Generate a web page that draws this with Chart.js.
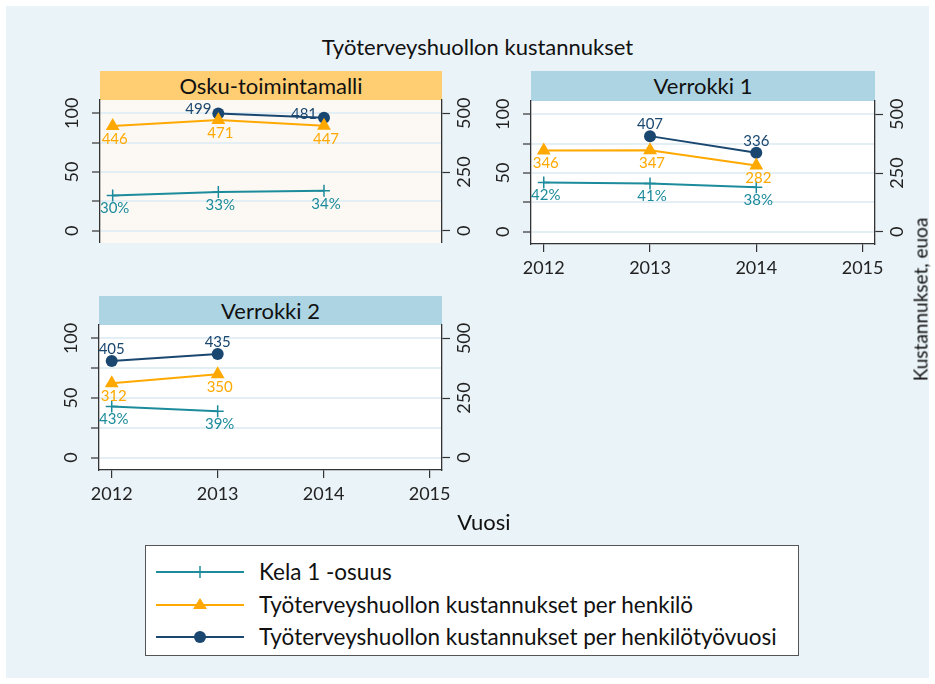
<!DOCTYPE html>
<html>
<head>
<meta charset="utf-8">
<script src="https://cdn.jsdelivr.net/npm/chart.js@4"></script>
<style>
body { margin: 0; background: #fff; font-family: Lato, 'Open Sans', sans-serif; }
#wrap { position: relative; width: 935px; height: 684px; overflow: hidden; }
#bg { position: absolute; left: 6px; top: 6px; width: 923px; height: 672px; background: #EAF3F8; }
.hdr { position: absolute; height: 29px; line-height: 29px; text-align: center; font-size: 22px; color: #111; }
canvas { position: absolute; }
#title { position: absolute; left: 0; width: 955px; top: 33px; text-align: center; font-size: 22px; color: #111; }
#xtitle { position: absolute; left: 434px; width: 100px; top: 508px; text-align: center; font-size: 22px; color: #111; }
#ytitle { position: absolute; left: 820px; top: 288px; width: 200px; text-align: center; font-size: 19px; color: #111; transform: rotate(-90deg); }
#legend { position: absolute; left: 145px; top: 545px; width: 654px; height: 111px; background: #fff; border: 1px solid #555; box-sizing: border-box; }
.item { position: absolute; left: 10px; height: 30px; width: 640px; }
.item svg { position: absolute; left: 0; top: 0; }
.item span { position: absolute; left: 103px; top: 1px; font-size: 22.5px; color: #111; white-space: nowrap; }
</style>
</head>
<body>
<div id="wrap">
  <div id="bg"></div>
  <div id="title">Työterveyshuollon kustannukset</div>

  <div class="hdr" style="left:100px;top:71px;width:342px;background:#FFCE73;">Osku-toimintamalli</div>
  <div class="hdr" style="left:531px;top:71px;width:344px;height:30px;background:#ADD4E2;">Verrokki 1</div>
  <div class="hdr" style="left:99px;top:296px;width:343px;background:#ADD4E2;">Verrokki 2</div>

  <canvas id="c1" width="460" height="153" style="left:40px;top:90px;"></canvas>
  <canvas id="c2" width="462" height="192" style="left:471px;top:91px;"></canvas>
  <canvas id="c3" width="461" height="194" style="left:39px;top:315px;"></canvas>

  <div id="xtitle">Vuosi</div>
  <div id="ytitle">Kustannukset, euoa</div>

  <div id="legend">
    <div class="item" style="top:11px;">
      <svg width="100" height="30"><line x1="0" y1="15" x2="88" y2="15" stroke="#1C8B9B" stroke-width="2"/><line x1="44" y1="9" x2="44" y2="21" stroke="#1C8B9B" stroke-width="1.5"/><line x1="38" y1="15" x2="50" y2="15" stroke="#1C8B9B" stroke-width="1.5"/></svg>
      <span>Kela 1 -osuus</span>
    </div>
    <div class="item" style="top:44px;">
      <svg width="100" height="30"><line x1="0" y1="15" x2="88" y2="15" stroke="#FFA900" stroke-width="2"/><polygon points="44,8 51,19 37,19" fill="#FFA900"/></svg>
      <span>Työterveyshuollon kustannukset per henkilö</span>
    </div>
    <div class="item" style="top:76px;">
      <svg width="100" height="30"><line x1="0" y1="15" x2="88" y2="15" stroke="#1A476F" stroke-width="2"/><circle cx="44" cy="15" r="6" fill="#1A476F"/></svg>
      <span>Työterveyshuollon kustannukset per henkilötyövuosi</span>
    </div>
  </div>
</div>

<script>
// vuodet ja arvot
const years = [2012, 2013, 2014];
const xTicks = [2012, 2013, 2014, 2015];

const oskuKela = [30, 33, 34];
const oskuHenkilo = [446, 471, 447];
const oskuVuosi = [null, 499, 481];

const ver1Kela = [42, 41, 38];
const ver1Henkilo = [346, 347, 282];
const ver1Vuosi = [null, 407, 336];

const ver2Kela = [43, 39];
const ver2Henkilo = [312, 350];
const ver2Vuosi = [405, 435];

const teal = '#1C8B9B';
const orange = '#FFA900';
const navy = '#1A476F';

function points(vals) {
  return vals.map((v, i) => ({ x: years[i], y: v })).filter(p => p.y !== null);
}

// arvojen tekstit pisteiden viereen
const pointLabels = {
  id: 'pointLabels',
  afterDatasetsDraw(chart) {
    const ctx = chart.ctx;
    ctx.save();
    ctx.font = '15px Lato';
    ctx.textAlign = 'center';
    ctx.textBaseline = 'middle';
    chart.data.datasets.forEach((ds, di) => {
      const meta = chart.getDatasetMeta(di);
      meta.data.forEach((el, i) => {
        const pos = ds.labelPos[i] || ds.labelPos[0];
        let dx = 2, dy = 13;
        if (pos === 'above') { dx = 0; dy = -12; }
        if (pos === 'left') { dx = -20; dy = -4; }
        ctx.fillStyle = ds.borderColor;
        ctx.fillText(ds.data[i].y + ds.suffix, el.x + dx, el.y + dy);
      });
    });
    ctx.restore();
  }
};

// pystyyn käännetyt y-akselin luvut
const rotTicks = {
  id: 'rotTicks',
  afterDraw(chart) {
    const ctx = chart.ctx;
    ctx.save();
    ctx.font = '18px Lato';
    ctx.fillStyle = '#222';
    ctx.textAlign = 'center';
    ctx.textBaseline = 'middle';
    ['y', 'y2'].forEach(id => {
      const s = chart.scales[id];
      const every = id === 'y' ? 50 : 250;
      const x = id === 'y' ? s.right - 28 : s.left + 22;
      s.ticks.forEach(t => {
        if (t.value % every !== 0) return;
        ctx.save();
        ctx.translate(x, s.getPixelForValue(t.value));
        ctx.rotate(-Math.PI / 2);
        ctx.fillText(String(t.value), 0, 0);
        ctx.restore();
      });
    });
    ctx.restore();
  }
};

const plotBg = {
  id: 'plotBg',
  beforeDraw(chart, args, opts) {
    const a = chart.chartArea;
    chart.ctx.save();
    chart.ctx.fillStyle = opts.color;
    chart.ctx.fillRect(a.left, a.top, a.right - a.left, a.bottom - a.top);
    chart.ctx.restore();
  }
};

function makeChart(id, kela, henkilo, vuosi, vuosiPos, showX, bg) {
  new Chart(document.getElementById(id), {
    type: 'line',
    data: {
      datasets: [
        {
          data: points(kela), yAxisID: 'y', suffix: '%', labelPos: ['below'],
          borderColor: teal, backgroundColor: teal, borderWidth: 2,
          pointStyle: 'cross', pointRadius: 6, pointBorderWidth: 1.5
        },
        {
          data: points(henkilo), yAxisID: 'y2', suffix: '', labelPos: ['below'],
          borderColor: orange, backgroundColor: orange, borderWidth: 2,
          pointStyle: 'triangle', pointRadius: 8, pointBorderWidth: 0
        },
        {
          data: points(vuosi), yAxisID: 'y2', suffix: '', labelPos: vuosiPos,
          borderColor: navy, backgroundColor: navy, borderWidth: 2,
          pointStyle: 'circle', pointRadius: 6, pointBorderWidth: 0
        }
      ]
    },
    options: {
      responsive: false,
      animation: false,
      layout: { padding: { top: 10 }, autoPadding: false },
      plugins: {
        legend: { display: false },
        tooltip: { enabled: false },
        plotBg: { color: bg }
      },
      scales: {
        x: {
          type: 'linear', min: 2011.88, max: 2015.117, display: showX,
          afterBuildTicks: s => { s.ticks = xTicks.map(v => ({ value: v })); },
          afterFit: s => { s.height = showX ? 39 : 0; },
          grid: { drawOnChartArea: false, tickLength: 8, tickColor: '#333', lineWidth: 1.2 },
          border: { color: '#333', width: 1.3 },
          ticks: { color: '#222', font: { family: 'Lato', size: 18 }, padding: 5, callback: v => String(v) }
        },
        y: {
          position: 'left', min: -10.4, max: 111.3,
          afterFit: s => { s.width = 60; },
          ticks: { display: false, stepSize: 25, includeBounds: false },
          grid: { color: '#E3EEF5', lineWidth: 2, tickLength: 8, tickColor: '#333', tickWidth: 1.2 },
          border: { color: '#333', width: 1.3 }
        },
        y2: {
          position: 'right', min: -52, max: 556.5,
          afterFit: s => { s.width = 58; },
          ticks: { display: false, stepSize: 250, includeBounds: false },
          grid: { drawOnChartArea: false, tickLength: 8, tickColor: '#333', tickWidth: 1.2 },
          border: { color: '#333', width: 1.3 }
        }
      }
    },
    plugins: [plotBg, pointLabels, rotTicks]
  });
}

makeChart('c1', oskuKela, oskuHenkilo, oskuVuosi, ['left', 'left', 'above'], false, '#FCF9F4');
makeChart('c2', ver1Kela, ver1Henkilo, ver1Vuosi, ['above'], true, '#FFFFFF');
makeChart('c3', ver2Kela, ver2Henkilo, ver2Vuosi, ['above'], true, '#FFFFFF');
</script>
</body>
</html>
